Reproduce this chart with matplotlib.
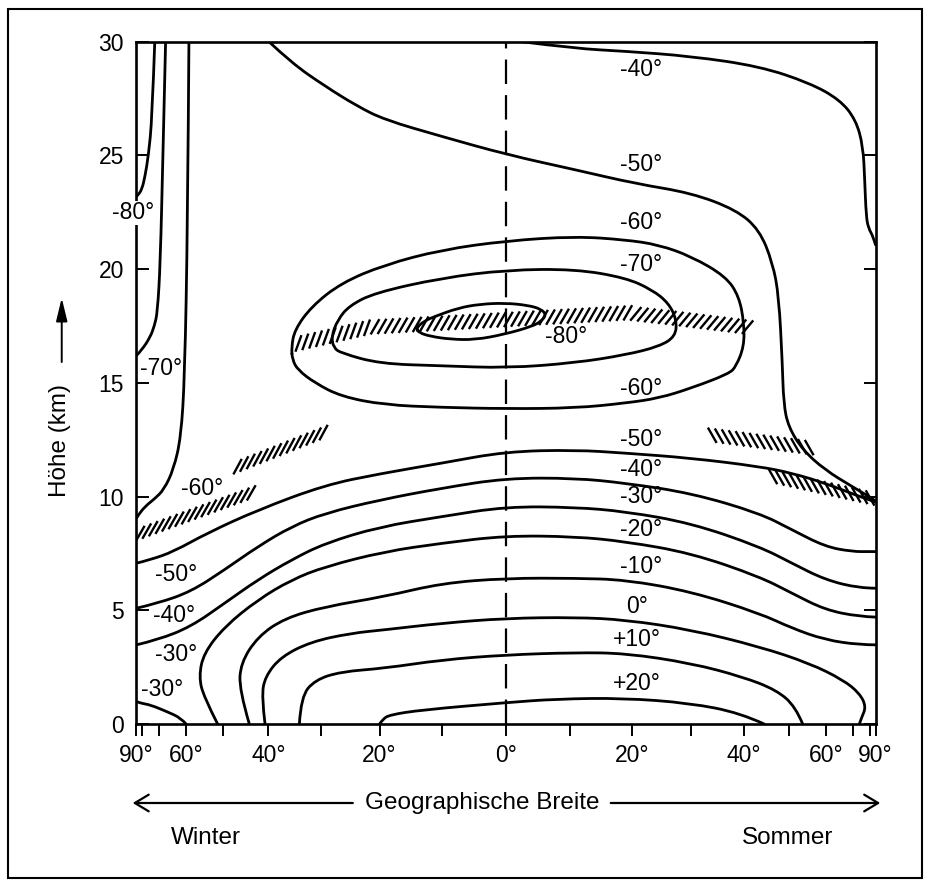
import numpy as np
import matplotlib
matplotlib.use("Agg")
from matplotlib import pyplot as plt
from matplotlib import patheffects
from matplotlib.path import Path
from matplotlib.patches import PathPatch, Rectangle

plt.rcParams["font.family"] = ["Liberation Sans", "DejaVu Sans"]

# isotherms: latitude in degrees (winter hemisphere negative), height in km
lat_m80_pole = [-71.9, -73.3, -75.4, -77.6, -80.2, -85.0, -90.0]
km_m80_pole = [30.0, 26.6, 25.0, 24.1, 23.5, 23.25, 23.2]

lat_m70_pole = [-67.1, -68.2, -69.3, -70.6, -72.1, -74.4, -80.2, -90.0]
km_m70_pole = [30.0, 25.0, 20.3, 18.1, 17.5, 17.0, 16.45, 16.2]

lat_m60_pole = [-59.1, -59.5, -60.4, -61.6, -64.1, -67.8, -72.0, -77.7, -84.0, -90.0]
km_m60_pole = [30.0, 22.0, 15.3, 12.6, 11.2, 10.3, 9.9, 9.56, 9.2, 9.05]

lat_m40_top = [2.45, 10.8, 18.9, 30.1, 43.3, 55.2, 64.6, 71.2, 75.1, 76.1, 77.1, 78.8, 83.4, 90.0]
km_m40_top = [30.0, 29.7, 29.58, 29.36, 28.92, 28.19, 27.45, 26.57, 25.4, 23.93, 22.32, 21.8, 21.44, 21.07]

lat_m50_top = [-39.9, -35.5, -29.3, -23.7, -19.2, -10.1, 0.2, 10.8, 20.5, 30.1, 38.5, 43.3,
               46.2, 47.6, 48.4, 48.7, 49.8, 53.4, 59.7, 69.5, 86.0, 90.0]
km_m50_top = [30.0, 29.07, 28.04, 27.16, 26.57, 25.84, 25.03, 24.37, 23.76, 23.35, 22.61, 21.73,
              20.27, 18.8, 15.87, 14.1, 13.08, 12.05, 11.17, 10.44, 9.85, 9.8]

lat_m60_ring = [-35.5, -34.9, -31.75, -26.5, -19.2, -10.05, 0.2, 10.8, 18.9, 24.4, 30.1, 36.5, 39.1,
                40.1, 40.1, 38.5, 37.1, 30.1, 24.5, 18.9, 10.8, 0.0, -10.05, -19.2, -26.5, -31.1,
                -34.3, -35.3, -35.5]
km_m60_ring = [16.54, 17.33, 18.36, 19.39, 20.19, 20.85, 21.25, 21.44, 21.29, 21.07, 20.56, 19.68, 18.8,
               17.63, 16.6, 15.72, 15.4, 14.77, 14.33, 14.11, 13.89, 13.86, 13.92, 14.03, 14.4, 14.99,
               15.57, 16.01, 16.54]

lat_m70_ring = [-28.2, -27.1, -25.1, -20.8, -10.05, 0.2, 10.8, 18.9, 23.3, 26.1, 27.5, 27.3, 24.5,
                18.9, 10.8, 0.2, -10.05, -20.0, -26.5, -27.8, -28.2]
km_m70_ring = [17.04, 17.77, 18.39, 18.96, 19.61, 19.97, 20.0, 19.62, 19.09, 18.51, 17.77, 17.04, 16.6,
               16.23, 15.88, 15.65, 15.75, 15.84, 16.31, 16.54, 17.04]

lat_m80_core = [-14.1, -12.7, -11.1, -7.45, -4.06, -0.16, 3.44, 5.47, 6.25, 5.47, 4.02, -0.16, -4.84,
                -8.75, -11.7, -13.6, -14.1]
km_m80_core = [17.41, 17.73, 17.92, 18.29, 18.46, 18.51, 18.41, 18.24, 17.99, 17.71, 17.48, 17.14, 16.89,
               16.92, 17.04, 17.2, 17.41]

lat_m50 = [-90.0, -74.3, -64.1, -54.0, -42.2, -29.3, -20.0, -10.0, 0.0, 10.8, 18.9, 30.1, 43.3, 50.7,
           59.7, 73.1, 86.0, 90.0]
km_m50 = [7.07, 7.22, 7.58, 8.39, 9.41, 10.51, 11.0, 11.47, 11.98, 12.05, 11.91, 11.69, 11.32, 11.03,
          10.59, 10.0, 9.78, 9.75]

lat_m40 = [-90.0, -70.4, -58.5, -49.6, -42.2, -35.5, -29.3, -20.0, -10.0, 0.0, 10.8, 18.9, 30.1, 43.3,
           50.7, 59.7, 69.5, 80.0, 90.0]
km_m40 = [5.09, 5.31, 5.82, 6.78, 7.8, 8.68, 9.27, 9.85, 10.37, 10.81, 10.81, 10.59, 10.15, 9.27,
          8.54, 7.8, 7.58, 7.58, 7.58]

lat_m30 = [-90.0, -70.4, -58.5, -49.6, -42.2, -35.5, -29.3, -20.0, -10.0, 0.0, 10.8, 18.9, 30.1, 43.3,
           50.7, 59.7, 73.1, 90.0]
km_m30 = [3.48, 3.7, 4.28, 5.31, 6.34, 7.22, 7.95, 8.67, 9.12, 9.56, 9.53, 9.34, 8.83, 7.8,
          7.07, 6.34, 5.97, 5.97]

lat_m20 = [-51.3, -54.9, -56.2, -54.9, -49.6, -42.2, -35.5, -29.3, -19.2, -10.0, 0.0, 10.8, 18.9, 30.1,
           43.3, 50.7, 59.7, 73.0, 90.0]
km_m20 = [0.0, 1.2, 2.08, 3.11, 4.28, 5.46, 6.34, 6.92, 7.58, 7.95, 8.28, 8.24, 8.02, 7.51,
          6.48, 5.75, 5.02, 4.72, 4.7]

lat_m10 = [-44.0, -46.2, -45.9, -42.2, -36.8, -29.3, -19.2, -10.0, 0.0, 10.8, 18.9, 30.1, 43.3, 50.7,
           59.7, 73.1, 90.0]
km_m10 = [0.0, 1.5, 2.67, 3.84, 4.65, 5.16, 5.6, 6.19, 6.41, 6.41, 6.34, 5.82, 4.87, 4.21,
          3.7, 3.48, 3.48]

lat_0 = [-40.7, -41.4, -40.7, -37.5, -31.8, -24.8, -19.2, -10.0, 0.0, 10.8, 18.9, 30.1, 43.3, 55.2,
         65.8, 73.1, 77.1, 74.1, 73.0]
km_0 = [0.0, 1.2, 2.08, 2.96, 3.62, 3.99, 4.14, 4.43, 4.65, 4.69, 4.58, 4.14, 3.4, 2.67,
        1.94, 1.35, 0.76, 0.26, 0.0]

lat_p10 = [-34.0, -33.7, -31.1, -26.5, -19.2, -10.0, 0.0, 10.8, 18.9, 30.1, 39.7, 47.0, 51.6, 53.4]
km_p10 = [0.0, 1.2, 1.94, 2.3, 2.45, 2.82, 3.04, 3.14, 3.11, 2.67, 2.08, 1.5, 0.76, 0.0]

lat_p20 = [-20.0, -19.5, -18.4, -13.1, 0.0, 7.9, 18.5, 29.8, 39.4, 44.3]
km_p20 = [0.0, 0.2, 0.4, 0.62, 0.94, 1.1, 1.14, 0.92, 0.48, 0.0]

lat_m30_corner = [-90.0, -80.0, -74.3, -66.5, -61.6, -60.0]
km_m30_corner = [0.98, 0.9, 0.84, 0.54, 0.26, 0.0]

# tropopause segments (hatched)
lat_tp_winter_low = [-87.3, -42.9]
km_tp_winter_low = [8.32, 10.21]
lat_tp_winter_high = [-47.3, -29.0]
km_tp_winter_high = [11.25, 12.86]
lat_tp_tropics = [-34.6, -20.8, 0.15, 19.7, 27.3, 41.3]
km_tp_tropics = [16.67, 17.46, 17.78, 18.08, 17.86, 17.46]
lat_tp_summer_high = [33.3, 56.1]
km_tp_summer_high = [12.71, 12.13]
lat_tp_summer_low = [45.5, 84.0]
km_tp_summer_low = [10.91, 9.9]

# isotherm labels
label_text = ["-40°", "-50°", "-60°", "-70°", "-80°", "-60°", "-50°", "-40°", "-30°", "-20°",
              "-10°", "0°", "+10°", "+20°",
              "-70°", "-60°", "-50°", "-40°", "-30°", "-30°"]
label_lat = [21.4, 21.4, 21.4, 21.4, 9.3, 21.4, 21.4, 21.4, 21.4, 21.4,
             21.4, 20.7, 20.7, 20.7,
             -68.9, -55.4, -63.3, -64.1, -63.3, -68.5]
label_km = [28.79, 24.61, 22.06, 20.22, 17.05, 14.76, 12.49, 11.17, 10.0, 8.53,
            6.93, 5.17, 3.7, 1.78,
            15.62, 10.34, 6.56, 4.75, 3.04, 1.5]

xtick_major = [-90, -60, -40, -20, 0, 20, 40, 60, 90]
xtick_minor = [-80, -70, -50, -30, -10, 10, 30, 50, 70, 80]
ytick_vals = [0, 5, 10, 15, 20, 25, 30]


def to_sin(lat):
    return np.sin(np.radians(lat))


def from_sin(s):
    return np.degrees(np.arcsin(np.clip(s, -1.0, 1.0)))


def mid(p, q):
    # halfway point measured on the sine axis
    return (float(from_sin((to_sin(p[0]) + to_sin(q[0])) / 2)), (p[1] + q[1]) / 2)


def smooth_path(lat, km):
    pts = list(zip(lat, km))
    closed = pts[0] == pts[-1]
    verts, codes = [], []
    if closed:
        pts = pts[:-1]
        n = len(pts)
        verts.append(mid(pts[-1], pts[0]))
        codes.append(Path.MOVETO)
        for i in range(n):
            verts += [pts[i], mid(pts[i], pts[(i + 1) % n])]
            codes += [Path.CURVE3, Path.CURVE3]
        return Path(verts, codes)
    n = len(pts)
    verts.append(pts[0])
    codes.append(Path.MOVETO)
    if n == 2:
        verts.append(pts[1])
        codes.append(Path.LINETO)
        return Path(verts, codes)
    for i in range(1, n - 1):
        end = pts[i + 1] if i == n - 2 else mid(pts[i], pts[i + 1])
        verts += [pts[i], end]
        codes += [Path.CURVE3, Path.CURVE3]
    return Path(verts, codes)


fig = plt.figure(figsize=(9.31, 8.8), dpi=100)
ax = fig.add_axes([0.1466, 0.1773, 0.7938, 0.7753])
ax.set_xscale("function", functions=(to_sin, from_sin))
ax.set_xlim(-90, 90)
ax.set_ylim(0, 30)

isotherms = [
    (lat_m80_pole, km_m80_pole), (lat_m70_pole, km_m70_pole), (lat_m60_pole, km_m60_pole),
    (lat_m40_top, km_m40_top), (lat_m50_top, km_m50_top),
    (lat_m60_ring, km_m60_ring), (lat_m70_ring, km_m70_ring), (lat_m80_core, km_m80_core),
    (lat_m50, km_m50), (lat_m40, km_m40), (lat_m30, km_m30), (lat_m20, km_m20),
    (lat_m10, km_m10), (lat_0, km_0), (lat_p10, km_p10), (lat_p20, km_p20),
    (lat_m30_corner, km_m30_corner),
]
for lat, km in isotherms:
    ax.add_patch(PathPatch(smooth_path(lat, km), fill=False, edgecolor="black", lw=2.0,
                           joinstyle="round", capstyle="round"))

# equator
ax.axvline(0, color="black", lw=1.6, ls=(0, (11, 5)))

# tropopause: short slanted strokes only
hatch_kw = dict(spacing=5.0, length=2.2, linewidth=1.7)
tropopause = [
    (lat_tp_winter_low, km_tp_winter_low, 40, (-2.7, -4.7)),
    (lat_tp_winter_high, km_tp_winter_high, 40, (-2.7, -4.7)),
    (lat_tp_tropics, km_tp_tropics, 57, (-2.7, -4.7)),
    (lat_tp_summer_high, km_tp_summer_high, 127, (2.7, -4.7)),
    (lat_tp_summer_low, km_tp_summer_low, 132, (2.7, -4.7)),
]
for lat, km, ang, off in tropopause:
    ax.plot(lat, km, color="black",
            path_effects=[patheffects.TickedStroke(offset=off, angle=ang, **hatch_kw)])

for txt, lat, km in zip(label_text, label_lat, label_km):
    ax.text(lat, km, txt, fontsize=16.5, ha="center", va="center")

# the -80° label near the pole sits across the frame
ax.text(-0.0045, 22.48, "-80°", transform=ax.get_yaxis_transform(), fontsize=16.5,
        ha="center", va="center", zorder=5, clip_on=False,
        bbox=dict(facecolor="white", edgecolor="none", pad=0.5))

ax.set_xticks(xtick_major)
ax.set_xticklabels([f"{abs(v)}°" for v in xtick_major])
ax.set_xticks(xtick_minor, minor=True)
ax.set_yticks(ytick_vals)
ax.set_yticklabels([str(v) for v in ytick_vals])
ax.tick_params(axis="x", which="both", direction="out", length=8.5, width=1.4,
               labelsize=16.5, pad=6)
ax.tick_params(axis="y", which="both", direction="in", length=9, width=1.4,
               left=True, right=True, labelsize=16.5, pad=9)
for sp in ax.spines.values():
    sp.set_linewidth(1.9)

# axis titles
fig.text(0.0645, 0.50, "Höhe (km)", rotation=90, ha="center", va="center", fontsize=17.5)
ax.annotate("", xy=(0.0663, 0.6614), xytext=(0.0663, 0.5886), xycoords="figure fraction",
            arrowprops=dict(arrowstyle="-|>,head_length=0.7,head_width=0.17", lw=1.4,
                            color="black", mutation_scale=20, shrinkA=0, shrinkB=0))

fig.text(0.5175, 0.0875, "Geographische Breite", ha="center", va="center", fontsize=17.5)
arrow_kw = dict(arrowstyle="->,head_length=0.5,head_width=0.3", lw=1.6, color="black",
                mutation_scale=20, shrinkA=0, shrinkB=0)
ax.annotate("", xy=(0.1425, 0.0875), xytext=(0.379, 0.0875), xycoords="figure fraction",
            arrowprops=arrow_kw)
ax.annotate("", xy=(0.9455, 0.0875), xytext=(0.656, 0.0875), xycoords="figure fraction",
            arrowprops=arrow_kw)
fig.text(0.2215, 0.0475, "Winter", ha="center", va="center", fontsize=17.5)
fig.text(0.846, 0.0475, "Sommer", ha="center", va="center", fontsize=17.5)

fig.add_artist(Rectangle((0.0086, 0.0023), 0.9817, 0.9875, transform=fig.transFigure,
                         fill=False, edgecolor="black", lw=1.5))

fig.savefig("out.png", dpi=100, facecolor="white")
